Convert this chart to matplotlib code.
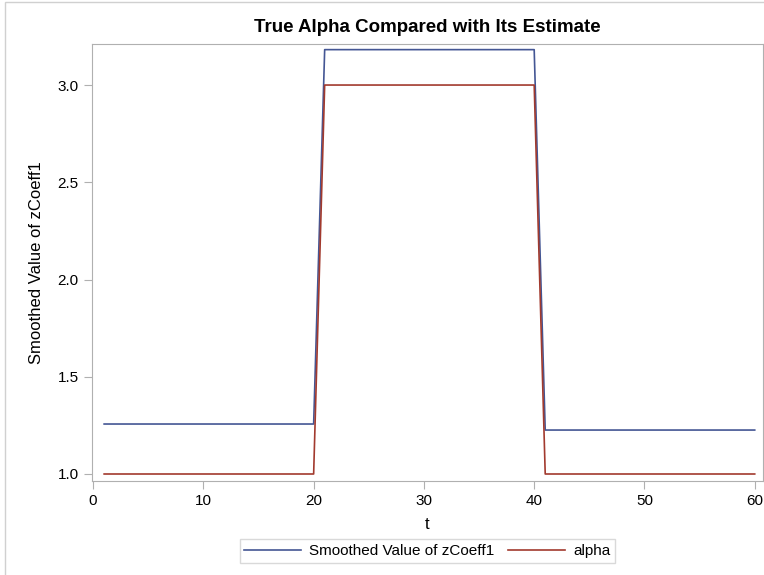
import matplotlib
matplotlib.use('Agg')
import matplotlib.pyplot as plt
from matplotlib.patches import Rectangle

plt.rcParams['font.family'] = ['Liberation Sans', 'DejaVu Sans']

# data
t = list(range(1, 61))
smoothed = [1.257] * 20 + [3.182] * 20 + [1.226] * 20
alpha = [1.0] * 20 + [3.0] * 20 + [1.0] * 20

blue = '#445694'
red = '#a23a2e'
grey = '#b0b0b0'

fig = plt.figure(figsize=(7.64, 5.75), dpi=100)
ax = fig.add_axes([92 / 764, 1 - 481 / 575, (763 - 92) / 764, (481 - 44) / 575])

ax.plot(t, smoothed, color=blue, lw=1.2, label='Smoothed Value of zCoeff1')
ax.plot(t, alpha, color=red, lw=1.2, label='alpha')

ax.set_xlim(-0.1, 60.75)
ax.set_ylim(0.964, 3.211)
ax.set_xticks(range(0, 61, 10))
ax.set_yticks([1.0, 1.5, 2.0, 2.5, 3.0])
ax.set_yticklabels(['1.0', '1.5', '2.0', '2.5', '3.0'])

for s in ax.spines.values():
    s.set_color(grey)
ax.tick_params(colors=grey, labelcolor='black', labelsize=11, direction='out', length=6)

ax.set_xlabel('t', fontsize=12, labelpad=6)
ax.set_ylabel('Smoothed Value of zCoeff1', fontsize=12, labelpad=10)
ax.set_title('True Alpha Compared with Its Estimate', fontsize=13.5, fontweight='bold', pad=9)

leg = ax.legend(loc='center', bbox_to_anchor=(0.5, -0.16), ncol=2, fontsize=11,
                frameon=True, fancybox=False, handlelength=3.7, columnspacing=0.9,
                borderpad=0.3, handletextpad=0.55)
leg.get_frame().set_edgecolor('#d0d0d0')
leg.get_frame().set_linewidth(1)

# outer border of the graph area
fig.patches.append(Rectangle((5 / 764, -0.1), 1.2, 1.1 - 2 / 575, transform=fig.transFigure,
                             fill=False, edgecolor='#d0d0d0', lw=1))

fig.savefig('out.png', dpi=100)
